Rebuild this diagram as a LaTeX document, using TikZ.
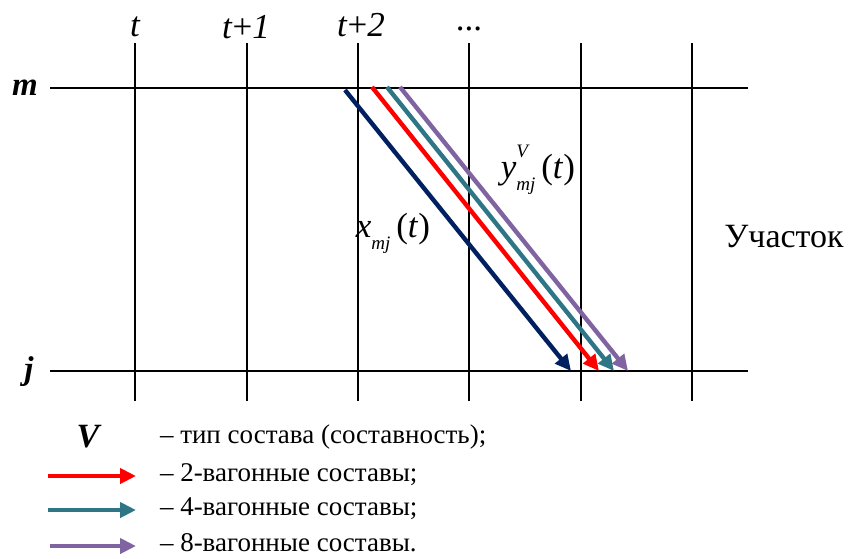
\documentclass[tikz,border=0pt]{standalone}
\usepackage{fontspec}
\setmainfont{Liberation Serif}
\usetikzlibrary{arrows.meta}
\definecolor{navy}{RGB}{0,32,96}
\definecolor{teal4}{RGB}{46,117,134}
\definecolor{purple8}{RGB}{128,100,162}
\newcommand{\subl}[1]{\raisebox{-0.35em}{\fontsize{19}{19}\selectfont\itshape #1}}
\begin{document}
\begin{tikzpicture}[x=1pt,y=-1pt,
  every node/.style={inner sep=0pt, outer sep=0pt},
  axis/.style={line width=2.6pt},
  tick/.style={line width=1.2pt},
  train/.style={line width=4.4pt, -{Triangle[length=16pt,width=15pt]}},
  lbl/.style={font=\fontsize{35}{35}\selectfont\itshape},
  txt/.style={font=\fontsize{27}{27}\selectfont, anchor=west}]
\useasboundingbox (0,0) rectangle (849,558);

% sections m and j
\node[lbl,font=\fontsize{33}{33}\selectfont\bfseries\itshape] (m) at (25,88) {m};
\node[lbl,font=\fontsize{33}{33}\selectfont\bfseries\itshape] (j) at (29,372) {j};
\coordinate (m0) at (50,88);   \coordinate (m1) at (748,88);
\coordinate (j0) at (50,371);  \coordinate (j1) at (748,371);
\draw[axis] (m0) -- (m1);
\draw[axis] (j0) -- (j1);

% time steps
\foreach \i/\x in {0/135,1/247,2/358,3/469,4/581,5/692}{
  \coordinate (top\i) at (\x,43);
  \coordinate (bot\i) at (\x,401);
  \draw[tick] (top\i) -- (bot\i);
}
\node[lbl] (t0) at (135,27) {t};
\node[lbl] (t1) at (246,27) {t\textup{+}1};
\node[lbl] (t2) at (361,25) {t\textup{+}2};
\node[lbl] (t3) at (469,29) {\textup{...}};

% trains
\coordinate (x0) at (345,90);  \coordinate (x1) at (571,371);
\coordinate (r0) at (372,87);  \coordinate (r1) at (599,371);
\coordinate (g0) at (387,87);  \coordinate (g1) at (614,371);
\coordinate (p0) at (400,87);  \coordinate (p1) at (628,371);
\draw[train,navy] (x0) -- (x1);
\draw[train,red] (r0) -- (r1);
\draw[train,teal4] (g0) -- (g1);
\draw[train,purple8] (p0) -- (p1);

\node[font=\fontsize{35}{35}\selectfont] (xlab) at (393,233) {\textit{x}\subl{mj}\,(\textit{t})};
\node[font=\fontsize{35}{35}\selectfont] (ylab) at (538,170) {\textit{y}\rlap{\raisebox{0.6em}{\fontsize{19}{19}\selectfont\itshape V}}\subl{mj}\,(\textit{t})};
\node[font=\fontsize{34}{34}\selectfont] (sect) at (784,237) {Участок};

% legend
\node[font=\fontsize{34}{34}\selectfont\bfseries\itshape] (vsym) at (88,437) {V};
\node[txt] (l0) at (160,437) {– тип состава (составность);};
\node[txt] (l1) at (160,475) {– 2-вагонные составы;};
\node[txt] (l2) at (160,509) {– 4-вагонные составы;};
\node[txt] (l3) at (160,543) {– 8-вагонные составы.};
\coordinate (a1) at (48,476);  \coordinate (b1) at (136,476);
\coordinate (a2) at (48,510);  \coordinate (b2) at (136,510);
\coordinate (a3) at (50,546);  \coordinate (b3) at (136,546);
\draw[train,red] (a1) -- (b1);
\draw[train,teal4] (a2) -- (b2);
\draw[train,purple8] (a3) -- (b3);
\end{tikzpicture}
\end{document}
